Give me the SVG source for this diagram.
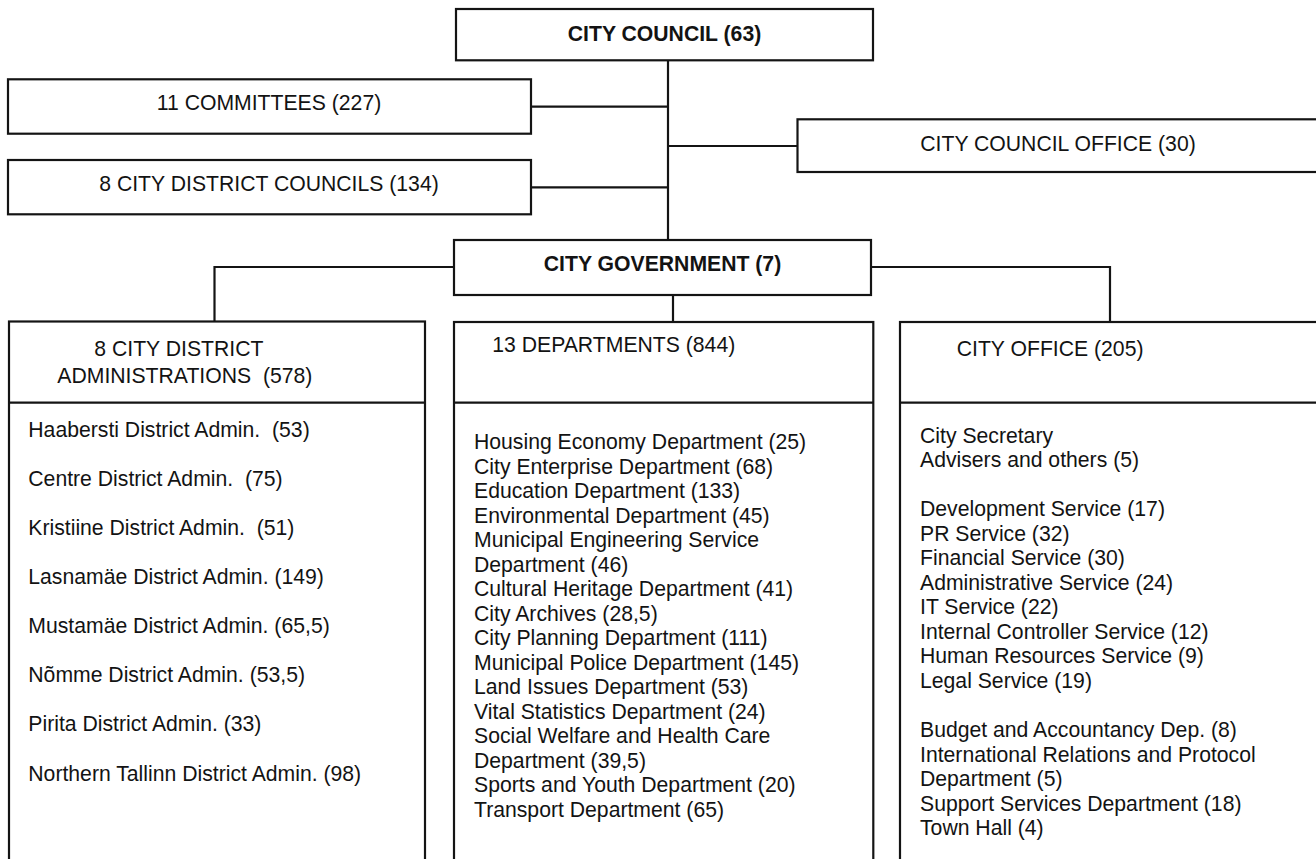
<svg xmlns="http://www.w3.org/2000/svg" width="1316" height="859" viewBox="0 0 1316 859">
<style>
.box{fill:#fff;stroke:#141414;stroke-width:2.2}
.sep{stroke:#141414;stroke-width:2.2}
.conn{fill:none;stroke:#141414;stroke-width:2.2}
text{font-family:"Liberation Sans",Arial,sans-serif;font-size:21.2px;fill:#131313}
.b{font-weight:bold}
.c{text-anchor:middle}
</style>
<rect width="1316" height="859" fill="#fff"/>
<g id="connectors">
<path class="conn" d="M668 60 V240"/>
<path class="conn" d="M531 106.7 H668"/>
<path class="conn" d="M531 187.3 H668"/>
<path class="conn" d="M668 146 H797.5"/>
<path class="conn" d="M454 267 H214.5 V321.5"/>
<path class="conn" d="M871 267 H1110 V322"/>
<path class="conn" d="M673 295 V322"/>
</g>
<g id="city-council">
<rect class="box" x="456" y="9" width="417" height="51.3"/>
<text class="b c" x="664.5" y="40.5">CITY COUNCIL (63)</text>
</g>
<g id="committees">
<rect class="box" x="8" y="79.3" width="523" height="54.4"/>
<text class="c" x="269" y="109.8">11 COMMITTEES (227)</text>
</g>
<g id="city-council-office">
<rect class="box" x="797.5" y="119.3" width="525" height="52.7"/>
<text class="c" x="1058" y="151">CITY COUNCIL OFFICE (30)</text>
</g>
<g id="district-councils">
<rect class="box" x="8" y="160" width="523" height="54.3"/>
<text class="c" x="269" y="191">8 CITY DISTRICT COUNCILS (134)</text>
</g>
<g id="city-government">
<rect class="box" x="454" y="240" width="417" height="55"/>
<text class="b c" x="662.5" y="271">CITY GOVERNMENT (7)</text>
</g>
<g id="district-administrations">
<rect class="box" x="9" y="321.5" width="416" height="560"/>
<line class="sep" x1="9" y1="402.7" x2="425" y2="402.7"/>
<text x="94.3" y="356.3">8 CITY DISTRICT</text>
<text x="57.3" y="382.7" xml:space="preserve">ADMINISTRATIONS  (578)</text>
<text x="28.3" y="437.3" xml:space="preserve">Haabersti District Admin.  (53)</text>
<text x="28.3" y="486.3" xml:space="preserve">Centre District Admin.  (75)</text>
<text x="28.3" y="535.3" xml:space="preserve">Kristiine District Admin.  (51)</text>
<text x="28.3" y="584.3">Lasnamäe District Admin. (149)</text>
<text x="28.3" y="633.3">Mustamäe District Admin. (65,5)</text>
<text x="28.3" y="682.3">Nõmme District Admin. (53,5)</text>
<text x="28.3" y="731.3">Pirita District Admin. (33)</text>
<text x="28.3" y="780.5">Northern Tallinn District Admin. (98)</text>
</g>
<g id="departments">
<rect class="box" x="454" y="322" width="419.3" height="560"/>
<line class="sep" x1="454" y1="402.7" x2="873.3" y2="402.7"/>
<text x="492.3" y="351.7">13 DEPARTMENTS (844)</text>
<text x="474">
<tspan x="474" y="449">Housing Economy Department (25)</tspan>
<tspan x="474" y="473.5">City Enterprise Department (68)</tspan>
<tspan x="474" y="498">Education Department (133)</tspan>
<tspan x="474" y="522.5">Environmental Department (45)</tspan>
<tspan x="474" y="547">Municipal Engineering Service</tspan>
<tspan x="474" y="571.5">Department (46)</tspan>
<tspan x="474" y="596">Cultural Heritage Department (41)</tspan>
<tspan x="474" y="620.5">City Archives (28,5)</tspan>
<tspan x="474" y="645">City Planning Department (111)</tspan>
<tspan x="474" y="669.5">Municipal Police Department (145)</tspan>
<tspan x="474" y="694">Land Issues Department (53)</tspan>
<tspan x="474" y="718.5">Vital Statistics Department (24)</tspan>
<tspan x="474" y="743">Social Welfare and Health Care</tspan>
<tspan x="474" y="767.5">Department (39,5)</tspan>
<tspan x="474" y="792">Sports and Youth Department (20)</tspan>
<tspan x="474" y="816.5">Transport Department (65)</tspan>
</text>
</g>
<g id="city-office">
<rect class="box" x="900" y="322" width="425" height="560"/>
<line class="sep" x1="900" y1="402.7" x2="1325" y2="402.7"/>
<text x="956.7" y="356">CITY OFFICE (205)</text>
<text x="920">
<tspan x="920" y="442.6">City Secretary</tspan>
<tspan x="920" y="467.1">Advisers and others (5)</tspan>
<tspan x="920" y="516.1">Development Service (17)</tspan>
<tspan x="920" y="540.6">PR Service (32)</tspan>
<tspan x="920" y="565.1">Financial Service (30)</tspan>
<tspan x="920" y="589.6">Administrative Service (24)</tspan>
<tspan x="920" y="614.1">IT Service (22)</tspan>
<tspan x="920" y="638.6">Internal Controller Service (12)</tspan>
<tspan x="920" y="663.1">Human Resources Service (9)</tspan>
<tspan x="920" y="687.6">Legal Service (19)</tspan>
<tspan x="920" y="737">Budget and Accountancy Dep. (8)</tspan>
<tspan x="920" y="761.5">International Relations and Protocol</tspan>
<tspan x="920" y="786">Department (5)</tspan>
<tspan x="920" y="810.5">Support Services Department (18)</tspan>
<tspan x="920" y="835">Town Hall (4)</tspan>
</text>
</g>
</svg>
